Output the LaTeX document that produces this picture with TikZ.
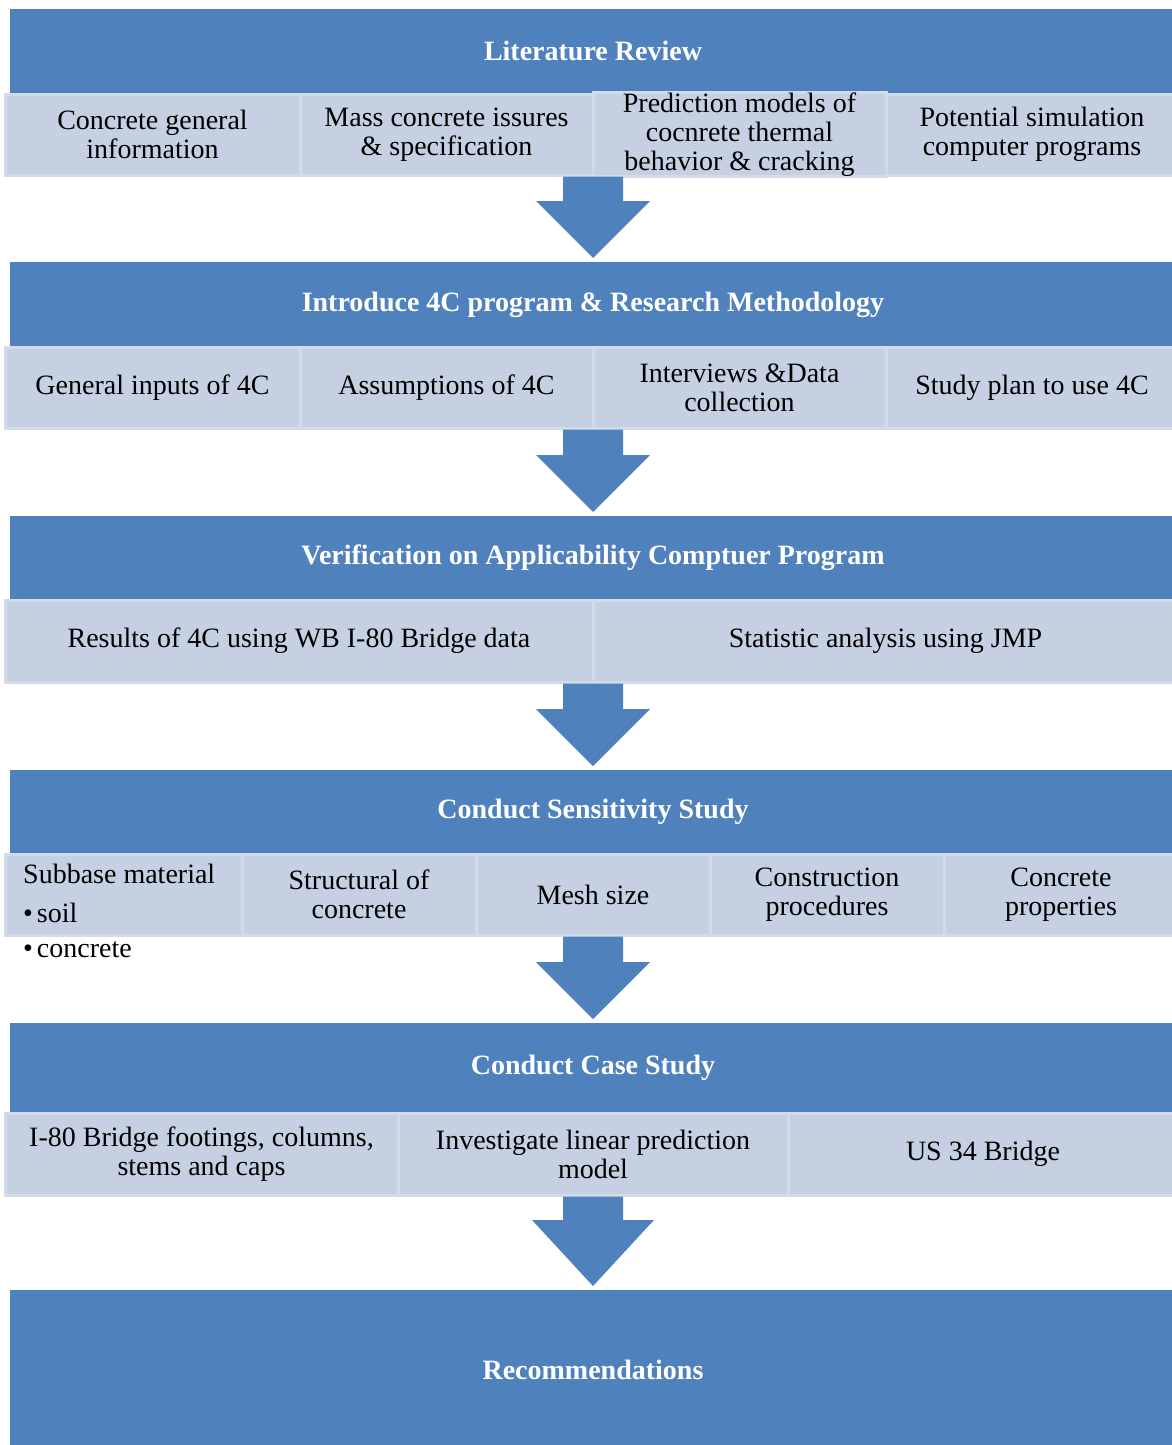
\documentclass[tikz,border=0pt]{standalone}
\usepackage{fontspec}
\setmainfont{Liberation Serif}
\usepackage{tikz}
\definecolor{hdrblue}{HTML}{4F81BD}
\definecolor{subfill}{HTML}{C5D0E3}
\definecolor{subedge}{HTML}{D3DBEB}
\usetikzlibrary{positioning, calc}
\newcommand{\diagfont}{\fontsize{28pt}{29pt}\selectfont}
\tikzstyle{band} = [rectangle, fill=hdrblue, text=white, font=\diagfont\bfseries,
minimum width=1166pt, inner sep=0pt, outer sep=0pt, anchor=north west]
\tikzstyle{sub} = [rectangle, draw=subedge, line width=3pt, fill=subfill,
align=center, inner sep=0pt, outer sep=0pt]

\begin{document}
\begin{tikzpicture}[x=1pt, y=-1pt, font=\diagfont]
	\useasboundingbox (0,0) rectangle (1172,1445);

	% stage 1
	\node (LitReview) [band, minimum height=84pt] at (10,9) {Literature Review};
	\node (GenInfo) [sub, minimum width=295pt, minimum height=81pt, anchor=north west] at (5,94) {Concrete general\\information};
	\node (MassIssues) [sub, minimum width=293pt, minimum height=81pt, right=0pt of GenInfo] {Mass concrete issures\\\& specification};
	\node (PredModels) [sub, minimum width=293pt, minimum height=81pt, right=0pt of MassIssues] {Prediction models of\\cocnrete thermal\\behavior \& cracking};
	\node (SimPrograms) [sub, minimum width=292pt, minimum height=81pt, right=0pt of PredModels] {Potential simulation\\computer programs};

	% stage 2
	\node (IntroMethod) [band, minimum height=85pt] at (10,262) {Introduce 4C program \& Research Methodology};
	\node (GenInputs) [sub, minimum width=295pt, minimum height=81pt, anchor=north west] at (5,347) {General inputs of 4C};
	\node (Assumptions) [sub, minimum width=293pt, minimum height=81pt, right=0pt of GenInputs] {Assumptions of 4C};
	\node (Interviews) [sub, minimum width=293pt, minimum height=81pt, right=0pt of Assumptions] {Interviews \&Data\\collection};
	\node (StudyPlan) [sub, minimum width=292pt, minimum height=81pt, right=0pt of Interviews] {Study plan to use 4C};

	% stage 3
	\node (Verification) [band, minimum height=84pt] at (10,516) {Verification on Applicability Comptuer Program};
	\node (Results) [sub, minimum width=588pt, minimum height=82pt, anchor=north west] at (5,600) {Results of 4C using WB I-80 Bridge data};
	\node (Statistic) [sub, minimum width=585pt, minimum height=82pt, right=0pt of Results] {Statistic analysis using JMP};

	% stage 4
	\node (Sensitivity) [band, minimum height=84pt] at (10,770) {Conduct Sensitivity Study};
	\node (SubbaseBox) [sub, minimum width=237pt, minimum height=81pt, anchor=north west] at (5,854) {};
	\node (Structural) [sub, minimum width=234pt, minimum height=81pt, right=0pt of SubbaseBox] {Structural of\\concrete};
	\node (MeshSize) [sub, minimum width=234pt, minimum height=81pt, right=0pt of Structural] {Mesh size};
	\node (Construction) [sub, minimum width=234pt, minimum height=81pt, right=0pt of MeshSize] {Construction\\procedures};
	\node (ConcProps) [sub, minimum width=234pt, minimum height=81pt, right=0pt of Construction] {Concrete\\properties};
	\node (Subbase) [anchor=north west, align=left, inner sep=0pt] at (23,864) {Subbase material\\[10pt]\textbullet\hspace{4pt}soil\\[6pt]\textbullet\hspace{4pt}concrete};

	% stage 5
	\node (CaseStudy) [band, minimum height=90pt] at (10,1023) {Conduct Case Study};
	\node (Footings) [sub, minimum width=393pt, minimum height=82pt, anchor=north west] at (5,1113) {I-80 Bridge footings, columns,\\stems and caps};
	\node (LinearModel) [sub, minimum width=390pt, minimum height=82pt, right=0pt of Footings] {Investigate linear prediction\\model};
	\node (USBridge) [sub, minimum width=390pt, minimum height=82pt, right=0pt of LinearModel] {US 34 Bridge};

	% stage 6
	\node (Recommend) [band, minimum height=160pt] at (10,1290) {Recommendations};

	% block arrows between stages
	\foreach \up/\down/\hw/\hl in {GenInfo/IntroMethod/57pt/57pt, GenInputs/Verification/57pt/57pt,
		Results/Sensitivity/57pt/57pt, SubbaseBox/CaseStudy/57pt/57pt, Footings/Recommend/61pt/66pt}
		\fill[hdrblue] let \p1=(\down.north), \p2=(\up.south) in
			(\x1-30pt,\y2-1.5pt) -- (\x1+30pt,\y2-1.5pt) -- (\x1+30pt,\y1+4pt+\hl) -- (\x1+\hw,\y1+4pt+\hl)
			-- (\x1,\y1+4pt) -- (\x1-\hw,\y1+4pt+\hl) -- (\x1-30pt,\y1+4pt+\hl) -- cycle;
\end{tikzpicture}
\end{document}
